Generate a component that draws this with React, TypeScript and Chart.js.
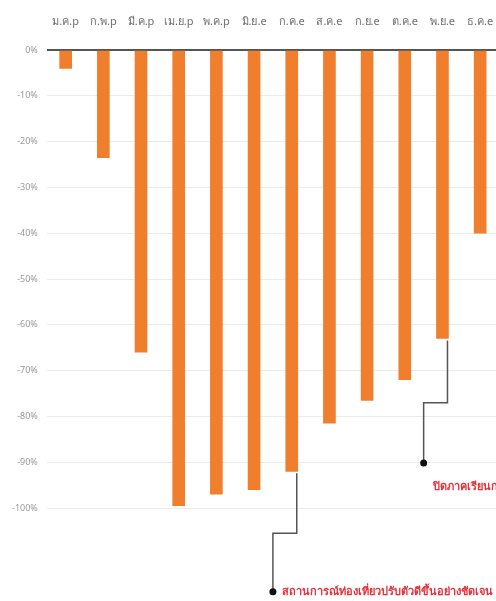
import React, { useEffect, useRef } from "react";
import { Chart, registerables } from "chart.js";

Chart.register(...registerables);

const categories = ["ม.ค.p", "ก.พ.p", "มี.ค.p", "เม.ย.p", "พ.ค.p", "มิ.ย.e", "ก.ค.e", "ส.ค.e", "ก.ย.e", "ต.ค.e", "พ.ย.e", "ธ.ค.e"];
const values = [-4, -23.5, -66, -99.5, -97, -96, -92, -81.5, -76.5, -72, -63, -40];
const yTicks = [0, -10, -20, -30, -40, -50, -60, -70, -80, -90, -100];

// annotation callouts: bar index, elbow value, elbow x (category units), dot value, label
const noteBars = [6, 10];
const noteElbowValues = [-105.5, -77];
const noteElbowX = [5.5, 9.5];
const noteDotValues = [-118.3, -90.2];
const noteTextValues = [-118.3, -95.4];
const noteTexts = ["สถานการณ์ท่องเที่ยวปรับตัวดีขึ้นอย่างชัดเจน", "ปิดภาคเรียนการท่องเที่ยว"];

const calloutPlugin = {
  id: "callouts",
  afterDatasetsDraw(chart: any) {
    const ctx = chart.ctx;
    const meta = chart.getDatasetMeta(0);
    const xs = chart.scales.x;
    const ys = chart.scales.y;
    ctx.save();
    noteBars.forEach((bi, k) => {
      const el = meta.data[bi];
      const vx = el.x + el.width / 2 - 1;
      const ex = xs.getPixelForValue(noteElbowX[k]);
      const ey = ys.getPixelForValue(noteElbowValues[k]);
      const dy = ys.getPixelForValue(noteDotValues[k]);
      ctx.strokeStyle = "#555555";
      ctx.lineWidth = 1.5;
      ctx.beginPath();
      ctx.moveTo(vx, el.y + 2);
      ctx.lineTo(vx, ey);
      ctx.lineTo(ex, ey);
      ctx.lineTo(ex, dy);
      ctx.stroke();
      ctx.fillStyle = "#111111";
      ctx.beginPath();
      ctx.arc(ex, dy, 3.5, 0, Math.PI * 2);
      ctx.fill();
      ctx.fillStyle = "#e8303a";
      ctx.font = "bold 11px 'Noto Sans', sans-serif";
      ctx.textBaseline = "middle";
      ctx.textAlign = "left";
      ctx.fillText(noteTexts[k], ex + 9, ys.getPixelForValue(noteTextValues[k]));
    });
    ctx.restore();
  },
};

export default function App() {
  const ref = useRef<HTMLCanvasElement | null>(null);
  useEffect(() => {
    if (!ref.current) return;
    const chart = new Chart(ref.current, {
      type: "bar",
      data: {
        labels: categories,
        datasets: [
          {
            data: values,
            backgroundColor: "#f07f2d",
            barThickness: 12,
          },
        ],
      },
      options: {
        animation: false,
        responsive: false,
        maintainAspectRatio: false,
        layout: { padding: { top: 0, bottom: 93, left: 3, right: 0 } },
        plugins: { legend: { display: false }, tooltip: { enabled: false } },
        scales: {
          x: {
            position: "top",
            afterFit: (axis: any) => {
              axis.height = 50;
              axis.paddingLeft = 0;
              axis.paddingRight = 0;
            },
            grid: { display: false, drawTicks: false },
            border: { display: false },
            ticks: {
              color: "#707070",
              font: { family: "'Noto Sans', sans-serif", size: 11 },
              padding: 22,
              maxRotation: 0,
              autoSkip: false,
            },
          },
          y: {
            min: -100,
            max: 0,
            afterBuildTicks: (axis: any) => {
              axis.ticks = yTicks.map((v) => ({ value: v }));
            },
            grid: {
              drawTicks: false,
              color: (c: any) => (c.tick && c.tick.value === 0 ? "#555555" : "#ebebeb"),
              lineWidth: (c: any) => (c.tick && c.tick.value === 0 ? 2 : 1),
            },
            border: { display: false },
            ticks: {
              color: "#9a9a9a",
              font: { family: "'Noto Sans', sans-serif", size: 9 },
              padding: 9,
              callback: (v: any) => `${v}%`,
            },
          },
        },
      },
      plugins: [calloutPlugin],
    });
    return () => chart.destroy();
  }, []);
  return (
    <div style={{ position: "fixed", left: 0, top: 0, width: 499, height: 601, background: "#fff" }}>
      <canvas ref={ref} width={499} height={601} style={{ display: "block" }} />
    </div>
  );
}
